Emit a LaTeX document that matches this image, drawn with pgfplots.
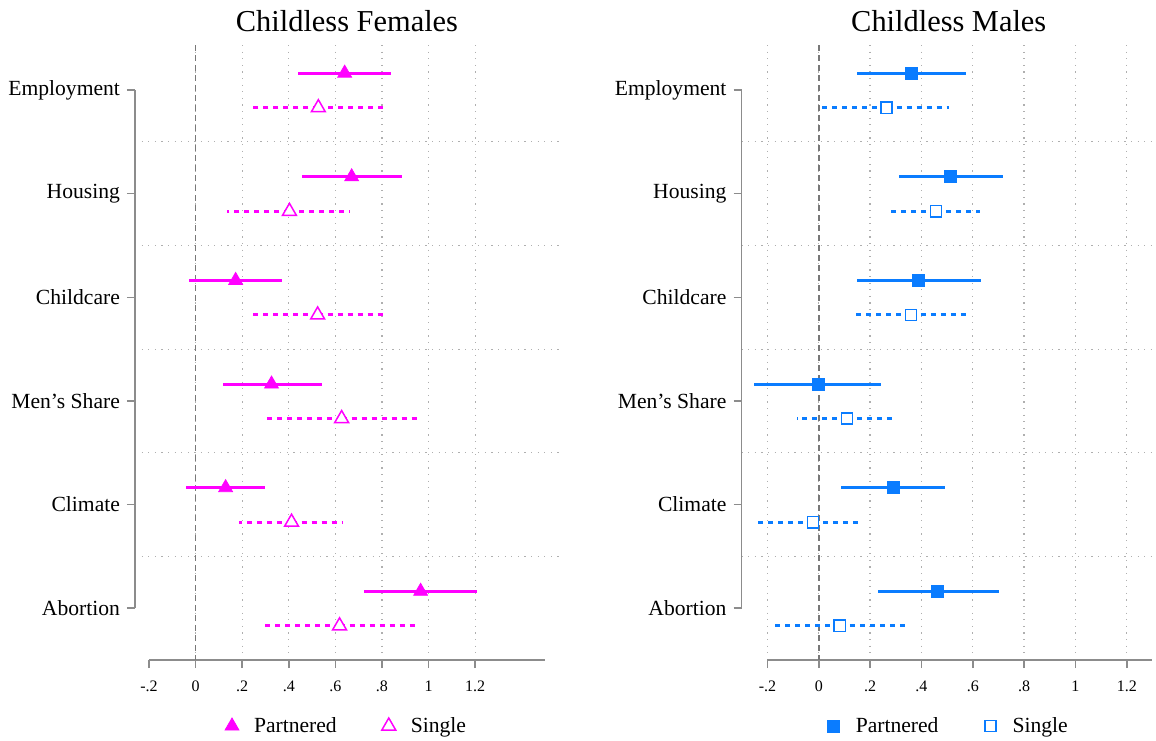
\documentclass[border=0pt]{standalone}
\usepackage{pgfplots}
\pgfplotsset{compat=1.18}
\usepackage{pgfplotstable}
\usepackage{fontspec}
\setmainfont{Liberation Serif}

\definecolor{fem}{RGB}{255,0,255}
\definecolor{mal}{RGB}{10,124,255}
\definecolor{axgray}{RGB}{140,140,140}
\definecolor{gridgray}{RGB}{175,175,175}
\definecolor{zerogray}{RGB}{120,120,120}

% y: row position (category 1..6, partnered above, single below)
% est: point estimate, lo/hi: confidence interval
\pgfplotstableread{
y     est    lo      hi
0.837 0.640  0.440   0.840
1.837 0.670  0.455   0.884
2.837 0.172 -0.030   0.373
3.837 0.326  0.116   0.541
4.837 0.129 -0.039   0.296
5.837 0.966  0.725   1.210
}\fempart
\pgfplotstableread{
y     est    lo      hi
1.170 0.527  0.233   0.810
2.170 0.403  0.133   0.665
3.170 0.524  0.227   0.803
4.170 0.627  0.305   0.953
5.170 0.412  0.185   0.631
6.170 0.618  0.296   0.944
}\femsing
\pgfplotstableread{
y     est    lo      hi
0.837 0.359  0.149   0.574
1.837 0.513  0.312   0.717
2.837 0.387  0.149   0.632
3.837 -0.003 -0.253  0.242
4.837 0.289  0.086   0.491
5.837 0.464  0.230   0.702
}\malpart
\pgfplotstableread{
y     est    lo      hi
1.170 0.264  0.011   0.507
2.170 0.457  0.267   0.627
3.170 0.359  0.141   0.585
4.170 0.110 -0.085   0.304
5.170 -0.023 -0.237  0.168
6.170 0.082 -0.179   0.339
}\malsing

\pgfplotsset{
  panel/.style={
    scale only axis,
    height=307.5pt,
    y dir=reverse,
    ymin=0.565, ymax=6.5,
    ytick={1,2,3,4,5,6},
    yticklabels={Employment,Housing,Childcare,Men's Share,Climate,Abortion},
    minor ytick={1.5,2.5,3.5,4.5,5.5},
    yminorgrids, xmajorgrids,
    axis line style={draw=none},
    xtick pos=bottom, ytick pos=left,
    tick align=outside,
    major tick length=4pt,
    minor tick length=0pt,
    every tick/.style={axgray, line width=0.75pt},
    every major grid/.style={gridgray, line width=0.6pt, dash pattern=on 0.6pt off 2.7pt},
    every minor grid/.style={gridgray, line width=0.6pt, dash pattern=on 0.6pt off 2.7pt},
    xticklabel style={font=\fontsize{8}{9.6}\selectfont, yshift=-3pt},
    yticklabel style={font=\fontsize{10.8}{13}\selectfont},
    title style={at={(0.5,1)}, anchor=base, yshift=1pt, font=\fontsize{15.2}{18}\selectfont},
    clip=false,
    legend columns=2,
    legend image code/.code={%
      \path[draw=none, fill=none] (-4pt,0pt) -- (9pt,0pt);
      \draw[##1] plot coordinates {(0pt,0pt)};},
    legend style={at={(0.5,0)}, anchor=center, yshift=-33pt, draw=none, fill=none,
      font=\fontsize{10.8}{13}\selectfont,
      /tikz/every even column/.append style={column sep=20pt}},
  },
  cibar/.style={error bars/.cd, x dir=both, x explicit, error mark=none,
    error bar style={line width=1.5pt, #1}},
}

\begin{document}
\begin{tikzpicture}
\useasboundingbox (0,0) rectangle (578pt,370pt);

% ---- Childless Females ----
\begin{axis}[panel, at={(67.5pt,40pt)}, anchor=south west, width=212pt,
  xmin=-0.26, xmax=1.56, title={Childless Females},
  xtick={0,0.2,0.4,0.6,0.8,1,1.2},
  xticklabels={0,.2,.4,.6,.8,1,1.2},
  extra x ticks={-0.2}, extra x tick labels={-.2},
  extra x tick style={grid=none}]
  \addlegendimage{only marks, mark=triangle*, fem, mark size=4pt}
  \addlegendentry{Partnered}
  \addlegendimage{only marks, mark=triangle*, mark size=4pt, mark options={draw=fem, fill=white, line width=0.75pt}}
  \addlegendentry{Single}
  \draw[axgray, line width=0.75pt] (axis cs:-0.26,1) -- (axis cs:-0.26,6);
  \draw[axgray, line width=0.75pt] (axis cs:-0.2,6.5) -- (axis cs:1.5,6.5);
  \addplot[forget plot, zerogray, line width=0.8pt, dash pattern=on 3pt off 2pt]
    coordinates {(0,0.565) (0,6.5)};
  \addplot[forget plot, fem, only marks, mark=triangle*, mark size=4pt,
    cibar={solid}]
    table[x=est, y=y, x error plus expr=\thisrow{hi}-\thisrow{est},
          x error minus expr=\thisrow{est}-\thisrow{lo}] {\fempart};
  \addplot[forget plot, fem, only marks, mark=triangle*, mark size=4pt,
    mark options={fill=white, draw=fem, line width=0.75pt, solid},
    cibar={dash pattern=on 2.5pt off 2.5pt}]
    table[x=est, y=y, x error plus expr=\thisrow{hi}-\thisrow{est},
          x error minus expr=\thisrow{est}-\thisrow{lo}] {\femsing};
\end{axis}

% ---- Childless Males ----
\begin{axis}[panel, at={(370.75pt,40pt)}, anchor=south west, width=207.25pt,
  xmin=-0.301, xmax=1.314, title={Childless Males},
  xtick={-0.2,0,0.2,0.4,0.6,0.8,1,1.2},
  xticklabels={-.2,0,.2,.4,.6,.8,1,1.2}]
  \addlegendimage{only marks, mark=square*, mal, mark size=3pt}
  \addlegendentry{Partnered}
  \addlegendimage{only marks, mark=square*, mark size=2.8pt, mark options={draw=mal, fill=white, line width=0.75pt}}
  \addlegendentry{Single}
  \draw[axgray, line width=0.75pt] (axis cs:-0.301,1) -- (axis cs:-0.301,6);
  \draw[axgray, line width=0.75pt] (axis cs:-0.2,6.5) -- (axis cs:1.3,6.5);
  \addplot[forget plot, zerogray, line width=0.8pt, dash pattern=on 3pt off 2pt]
    coordinates {(0,0.565) (0,6.5)};
  \addplot[forget plot, mal, only marks, mark=square*, mark size=3pt,
    cibar={solid}]
    table[x=est, y=y, x error plus expr=\thisrow{hi}-\thisrow{est},
          x error minus expr=\thisrow{est}-\thisrow{lo}] {\malpart};
  \addplot[forget plot, mal, only marks, mark=square*, mark size=2.8pt,
    mark options={fill=white, draw=mal, line width=0.75pt, solid},
    cibar={dash pattern=on 2.5pt off 2.5pt}]
    table[x=est, y=y, x error plus expr=\thisrow{hi}-\thisrow{est},
          x error minus expr=\thisrow{est}-\thisrow{lo}] {\malsing};
\end{axis}
\end{tikzpicture}
\end{document}
